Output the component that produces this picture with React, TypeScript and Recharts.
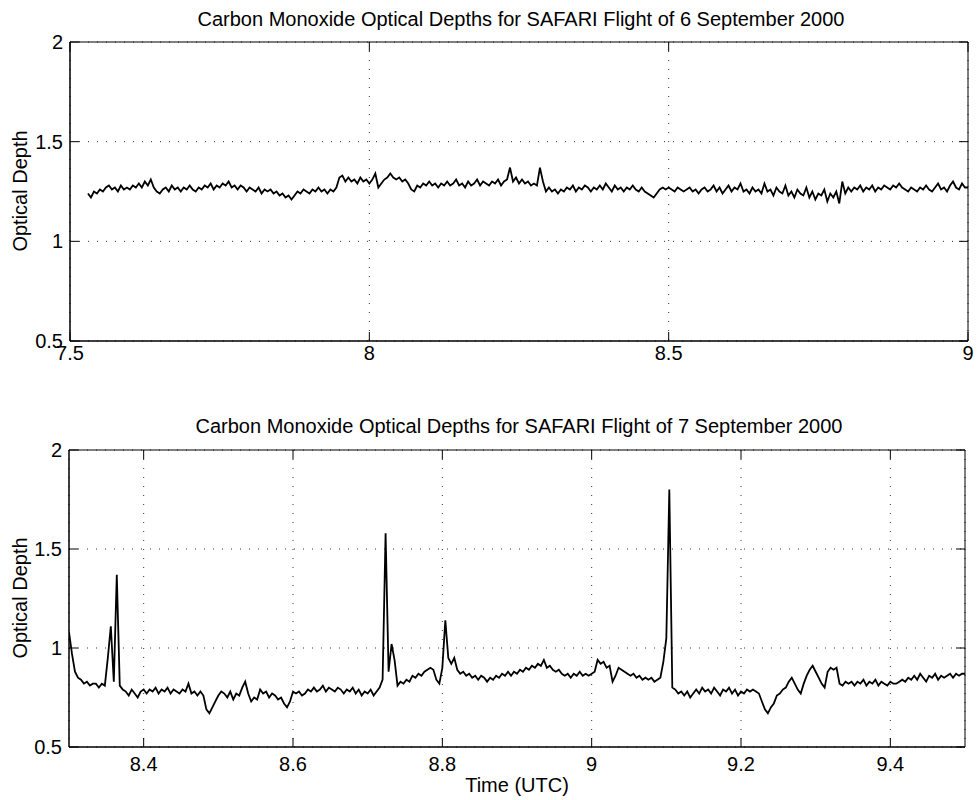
import { LineChart, Line, XAxis, YAxis, CartesianGrid, ReferenceArea } from "recharts";

const FONT = '"Liberation Sans", Arial, Helvetica, sans-serif';

// 6 September 2000: optical depth sampled every 0.005 h from 7.53 UTC
const sep6Start = 7.53;
const sep6Step = 0.005;
const sep6Depth = [
  1.24, 1.22, 1.25, 1.24, 1.26, 1.25, 1.27, 1.28, 1.26, 1.27, 1.25, 1.28, 1.26, 1.27, 1.26, 1.28, 1.27, 1.29, 1.27, 1.3,
  1.28, 1.31, 1.27, 1.25, 1.24, 1.26, 1.27, 1.25, 1.28, 1.26, 1.27, 1.25, 1.27, 1.26, 1.28, 1.26, 1.25, 1.27, 1.26, 1.28,
  1.27, 1.29, 1.26, 1.28, 1.27, 1.29, 1.28, 1.3, 1.27, 1.28, 1.26, 1.28, 1.27, 1.25, 1.27, 1.26, 1.25, 1.27, 1.24, 1.26,
  1.25, 1.26, 1.24, 1.25, 1.23, 1.24, 1.22, 1.23, 1.21, 1.23, 1.25, 1.24, 1.26, 1.25, 1.24, 1.26, 1.25, 1.27, 1.25, 1.26,
  1.24, 1.26, 1.25, 1.27, 1.32, 1.33, 1.3, 1.32, 1.3, 1.31, 1.29, 1.32, 1.3, 1.31, 1.29, 1.31, 1.34, 1.27, 1.29, 1.31,
  1.32, 1.34, 1.32, 1.31, 1.32, 1.3, 1.31, 1.29, 1.26, 1.25, 1.28, 1.27, 1.29, 1.28, 1.3, 1.28, 1.29, 1.27, 1.29, 1.28,
  1.3, 1.28, 1.29, 1.31, 1.28, 1.29, 1.27, 1.3, 1.28, 1.29, 1.31, 1.28, 1.3, 1.29, 1.28, 1.3, 1.29, 1.31, 1.28, 1.3,
  1.31, 1.37, 1.3, 1.32, 1.29, 1.31, 1.29, 1.3, 1.28, 1.29, 1.28, 1.37, 1.3, 1.25, 1.27, 1.25, 1.26, 1.24, 1.26, 1.25,
  1.27, 1.26, 1.28, 1.25, 1.27, 1.26, 1.28, 1.27, 1.25, 1.27, 1.26, 1.28, 1.26, 1.29, 1.27, 1.25, 1.28, 1.26, 1.27, 1.25,
  1.27, 1.26, 1.28, 1.26, 1.25, 1.27, 1.25, 1.24, 1.23, 1.22, 1.24, 1.26, 1.27, 1.26, 1.27, 1.26, 1.25, 1.27, 1.26, 1.25,
  1.26, 1.27, 1.25, 1.26, 1.24, 1.26, 1.27, 1.25, 1.26, 1.28, 1.25, 1.27, 1.24, 1.26, 1.28, 1.25, 1.27, 1.26, 1.29, 1.25,
  1.26, 1.24, 1.27, 1.25, 1.26, 1.24, 1.29, 1.25, 1.26, 1.23, 1.27, 1.25, 1.24, 1.28, 1.23, 1.25, 1.22, 1.26, 1.24, 1.23,
  1.27, 1.22, 1.25, 1.21, 1.24, 1.23, 1.26, 1.2, 1.24, 1.22, 1.25, 1.19, 1.3, 1.24, 1.27, 1.25, 1.27, 1.26, 1.28, 1.25,
  1.27, 1.26, 1.28, 1.25, 1.27, 1.26, 1.28, 1.27, 1.26, 1.28, 1.27, 1.29, 1.27, 1.26, 1.25, 1.27, 1.26, 1.25, 1.27, 1.26,
  1.28, 1.26, 1.25, 1.27, 1.29, 1.26, 1.27, 1.25, 1.28, 1.3, 1.27, 1.26, 1.29, 1.27, 1.27,
];

// 7 September 2000: optical depth sampled every 0.004 h from 8.30 UTC
const sep7Start = 8.3;
const sep7Step = 0.004;
const sep7Depth = [
  1.08, 0.97, 0.88, 0.85, 0.84, 0.82, 0.83, 0.81, 0.82, 0.82, 0.8, 0.82, 0.81, 0.95, 1.11, 0.83, 1.37, 0.81, 0.79, 0.78, 0.76, 0.79, 0.77, 0.75, 0.78,
  0.79, 0.77, 0.79, 0.78, 0.8, 0.77, 0.79, 0.78, 0.8, 0.77, 0.79, 0.78, 0.77, 0.79, 0.78, 0.82, 0.77, 0.78, 0.76, 0.78, 0.76, 0.69, 0.67, 0.7, 0.73,
  0.76, 0.78, 0.77, 0.75, 0.78, 0.74, 0.77, 0.76, 0.8, 0.83, 0.77, 0.73, 0.75, 0.74, 0.79, 0.77, 0.78, 0.75, 0.77, 0.76, 0.74, 0.75, 0.72, 0.7, 0.73,
  0.78, 0.77, 0.78, 0.76, 0.77, 0.79, 0.78, 0.8, 0.78, 0.79, 0.81, 0.78, 0.8, 0.79, 0.78, 0.8, 0.79, 0.77, 0.79, 0.78, 0.8, 0.77, 0.79, 0.76, 0.78,
  0.77, 0.79, 0.76, 0.78, 0.8, 0.84, 1.58, 0.88, 1.02, 0.94, 0.81, 0.83, 0.82, 0.84, 0.83, 0.86, 0.85, 0.87, 0.86, 0.88, 0.89, 0.9, 0.89, 0.84, 0.82,
  0.9, 1.14, 0.95, 0.92, 0.95, 0.89, 0.87, 0.88, 0.86, 0.87, 0.85, 0.86, 0.84, 0.86, 0.85, 0.83, 0.85, 0.84, 0.86, 0.85, 0.87, 0.86, 0.88, 0.86, 0.88,
  0.87, 0.89, 0.88, 0.9, 0.89, 0.91, 0.9, 0.92, 0.91, 0.94, 0.9, 0.91, 0.89, 0.88, 0.89, 0.87, 0.86, 0.87, 0.85, 0.87, 0.86, 0.88, 0.86, 0.87, 0.86,
  0.87, 0.88, 0.94, 0.92, 0.93, 0.9, 0.91, 0.83, 0.86, 0.9, 0.89, 0.88, 0.87, 0.86, 0.87, 0.85, 0.86, 0.84, 0.85, 0.84, 0.85, 0.83, 0.84, 0.85, 0.93,
  1.05, 1.8, 0.8, 0.79, 0.77, 0.78, 0.76, 0.78, 0.75, 0.77, 0.79, 0.77, 0.8, 0.78, 0.79, 0.77, 0.8, 0.78, 0.76, 0.79, 0.78, 0.8, 0.77, 0.79, 0.76,
  0.78, 0.77, 0.79, 0.78, 0.79, 0.78, 0.77, 0.73, 0.69, 0.67, 0.7, 0.72, 0.76, 0.77, 0.79, 0.8, 0.83, 0.85, 0.82, 0.79, 0.77, 0.82, 0.86, 0.89, 0.91,
  0.88, 0.85, 0.82, 0.8, 0.88, 0.9, 0.89, 0.9, 0.82, 0.81, 0.83, 0.82, 0.83, 0.81, 0.83, 0.82, 0.84, 0.81, 0.83, 0.82, 0.84, 0.81, 0.83, 0.82, 0.81,
  0.83, 0.82, 0.82, 0.83, 0.84, 0.83, 0.85, 0.84, 0.86, 0.84, 0.87, 0.85, 0.83, 0.86, 0.85, 0.87, 0.84, 0.86, 0.85, 0.86, 0.87, 0.85, 0.87, 0.86, 0.87,
  0.87,
];

const sep6Ticks = [7.5, 8, 8.5, 9];
const sep7Ticks = [8.4, 8.6, 8.8, 9, 9.2, 9.4];
const depthTicks = [0.5, 1, 1.5, 2];
const depthDomain: [number, number] = [0.5, 2];

const sep6Title = "Carbon Monoxide Optical Depths for SAFARI Flight of 6 September 2000";
const sep7Title = "Carbon Monoxide Optical Depths for SAFARI Flight of 7 September 2000";

function toRows(start: number, step: number, values: number[]) {
  return values.map((v, i) => ({ t: +(start + i * step).toFixed(3), depth: v }));
}

const tickStyle = { fill: "#000", fontSize: 20, fontFamily: FONT };
const noLabel = () => <g />;

interface PanelProps {
  data: { t: number; depth: number }[];
  domain: [number, number];
  ticks: number[];
  height: number;
  top: number;
  right: number;
  plotLeft: number;
  axisHeight: number;
  labelGap: number;
}

function Panel({ data, domain, ticks, height, top, right, plotLeft, axisHeight, labelGap }: PanelProps) {
  const inward = { stroke: "#000", strokeWidth: 1 };
  return (
    <LineChart
      width={977}
      height={height}
      data={data}
      margin={{ top, right, bottom: 0, left: 0 }}
    >
      <CartesianGrid xAxisId="x" yAxisId="y" stroke="#333" strokeDasharray="1 8" />
      <XAxis
        xAxisId="x"
        dataKey="t"
        type="number"
        domain={domain}
        ticks={ticks}
        allowDataOverflow
        interval={0}
        height={axisHeight}
        tickLine={false}
        tickSize={0}
        tickMargin={labelGap}
        axisLine={{ stroke: "#000" }}
        tick={tickStyle}
      />
      <YAxis
        yAxisId="y"
        type="number"
        domain={depthDomain}
        ticks={depthTicks}
        allowDataOverflow
        interval={0}
        width={plotLeft}
        tickLine={false}
        tickSize={0}
        tickMargin={7}
        axisLine={{ stroke: "#000" }}
        tick={tickStyle}
      />
      {/* inward MATLAB-style ticks on all four sides */}
      <XAxis xAxisId="xb" dataKey="t" type="number" domain={domain} ticks={ticks} allowDataOverflow interval={0}
        orientation="bottom" mirror height={1} tick={noLabel} axisLine={false} tickLine={inward} tickSize={9} />
      <XAxis xAxisId="xt" dataKey="t" type="number" domain={domain} ticks={ticks} allowDataOverflow interval={0}
        orientation="top" mirror height={1} tick={noLabel} axisLine={false} tickLine={inward} tickSize={9} />
      <YAxis yAxisId="yl" type="number" domain={depthDomain} ticks={depthTicks} allowDataOverflow interval={0}
        orientation="left" mirror width={1} tick={noLabel} axisLine={false} tickLine={inward} tickSize={9} />
      <YAxis yAxisId="yr" type="number" domain={depthDomain} ticks={depthTicks} allowDataOverflow interval={0}
        orientation="right" mirror width={1} tick={noLabel} axisLine={false} tickLine={inward} tickSize={9} />
      {/* plot box */}
      <ReferenceArea
        xAxisId="x"
        yAxisId="y"
        x1={domain[0]}
        x2={domain[1]}
        y1={depthDomain[0]}
        y2={depthDomain[1]}
        fill="none"
        fillOpacity={0}
        stroke="#000"
        strokeWidth={1}
        strokeOpacity={1}
        ifOverflow="visible"
      />
      {/* invisible copies so the tick-only axes get their scales */}
      <Line xAxisId="xb" yAxisId="yl" dataKey="depth" stroke="none" dot={false} activeDot={false} isAnimationActive={false} />
      <Line xAxisId="xt" yAxisId="yr" dataKey="depth" stroke="none" dot={false} activeDot={false} isAnimationActive={false} />
      <Line
        xAxisId="x"
        yAxisId="y"
        dataKey="depth"
        type="linear"
        stroke="#000"
        strokeWidth={1.8}
        dot={false}
        isAnimationActive={false}
      />
    </LineChart>
  );
}

const textBase = {
  position: "absolute" as const,
  fontFamily: FONT,
  fontSize: 20,
  lineHeight: "20px",
  color: "#000",
  whiteSpace: "nowrap" as const,
};

export default function App() {
  return (
    <div style={{ position: "absolute", left: 0, top: 0, width: 977, height: 800, background: "#fff" }}>
      <div style={{ position: "absolute", left: 0, top: 0 }}>
        <Panel
          data={toRows(sep6Start, sep6Step, sep6Depth)}
          domain={[7.5, 9]}
          ticks={sep6Ticks}
          height={370}
          top={42}
          right={9}
          plotLeft={70}
          axisHeight={29}
          labelGap={5}
        />
      </div>
      <div style={{ position: "absolute", left: 0, top: 400 }}>
        <Panel
          data={toRows(sep7Start, sep7Step, sep7Depth)}
          domain={[8.3, 9.5]}
          ticks={sep7Ticks}
          height={400}
          top={50}
          right={12}
          plotLeft={69}
          axisHeight={53}
          labelGap={10}
        />
      </div>
      <div style={{ ...textBase, left: 72, width: 898, top: 9, textAlign: "center" }}>{sep6Title}</div>
      <div style={{ ...textBase, left: 71, width: 896, top: 416, textAlign: "center" }}>{sep7Title}</div>
      <div style={{ ...textBase, left: 69, width: 896, top: 775, textAlign: "center" }}>Time (UTC)</div>
      <div style={{ ...textBase, left: 20, top: 191, transform: "translate(-50%, -50%) rotate(-90deg)" }}>
        Optical Depth
      </div>
      <div style={{ ...textBase, left: 20, top: 598, transform: "translate(-50%, -50%) rotate(-90deg)" }}>
        Optical Depth
      </div>
    </div>
  );
}
